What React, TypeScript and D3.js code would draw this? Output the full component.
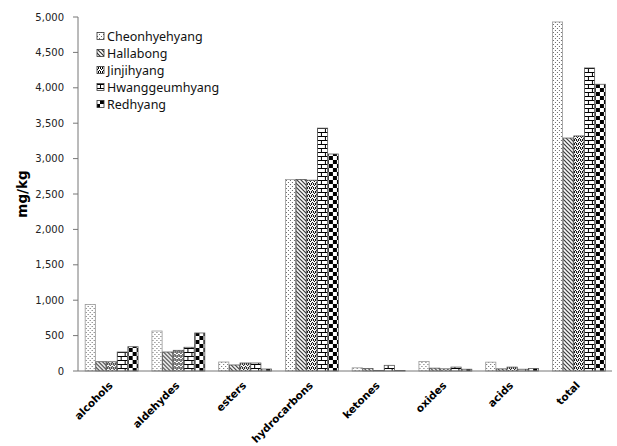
import * as d3 from "d3";

const categories = ["alcohols", "aldehydes", "esters", "hydrocarbons", "ketones", "oxides", "acids", "total"];
const cultivars = ["Cheonhyehyang", "Hallabong", "Jinjihyang", "Hwanggeumhyang", "Redhyang"];

const cheonhyehyang = [940, 565, 127, 2705, 45, 135, 125, 4930];
const hallabong = [131, 268, 85, 2705, 35, 40, 30, 3290];
const jinjihyang = [130, 292, 113, 2695, 8, 30, 55, 3320];
const hwanggeumhyang = [268, 335, 113, 3430, 80, 55, 25, 4280];
const redhyang = [343, 537, 28, 3065, 8, 25, 35, 4050];

const series = [cheonhyehyang, hallabong, jinjihyang, hwanggeumhyang, redhyang];
const yTicks = [0, 500, 1000, 1500, 2000, 2500, 3000, 3500, 4000, 4500, 5000];

const W = 617;
const H = 446;
const plot = { left: 78, right: 612, top: 17, bottom: 371 };

function Patterns() {
  return (
    <defs>
      {/* dotted */}
      <pattern id="p0" width="4" height="4" patternUnits="userSpaceOnUse">
        <rect width="4" height="4" fill="#fff" />
        <rect x="1" y="0" width="1" height="1" fill="#666" />
        <rect x="3" y="2" width="1" height="1" fill="#666" />
      </pattern>
      {/* downward diagonal */}
      <pattern id="p1" width="4" height="4" patternUnits="userSpaceOnUse">
        <rect width="4" height="4" fill="#fff" />
        <path d="M-1,-1 L5,5 M-1,3 L1,5 M3,-1 L5,1" stroke="#333" strokeWidth="1.2" />
      </pattern>
      {/* confetti */}
      <pattern id="p2" width="4" height="4" patternUnits="userSpaceOnUse">
        <rect width="4" height="4" fill="#fff" />
        <rect x="0" y="0" width="1" height="1" fill="#000" />
        <rect x="2" y="0" width="1" height="1" fill="#000" />
        <rect x="1" y="1" width="1" height="1" fill="#000" />
        <rect x="3" y="2" width="1" height="1" fill="#000" />
        <rect x="0" y="3" width="1" height="1" fill="#000" />
        <rect x="2" y="3" width="1" height="1" fill="#000" />
      </pattern>
      {/* horizontal brick */}
      <pattern id="p3" width="8" height="8" patternUnits="userSpaceOnUse">
        <rect width="8" height="8" fill="#fff" />
        <rect x="0" y="0" width="8" height="1" fill="#000" />
        <rect x="0" y="4" width="8" height="1" fill="#000" />
        <rect x="0" y="0" width="1" height="4" fill="#000" />
        <rect x="4" y="4" width="1" height="4" fill="#000" />
      </pattern>
      {/* large checker */}
      <pattern id="p4" width="8" height="8" patternUnits="userSpaceOnUse">
        <rect width="8" height="8" fill="#fff" />
        <rect x="0" y="0" width="4" height="4" fill="#000" />
        <rect x="4" y="4" width="4" height="4" fill="#000" />
      </pattern>
    </defs>
  );
}

export default function App() {
  const x = d3
    .scaleBand()
    .domain(categories)
    .range([plot.left, plot.right])
    .paddingInner(0.2)
    .paddingOuter(0.1);

  const xs = d3
    .scaleBand()
    .domain(cultivars)
    .range([0, x.bandwidth()]);

  const y = d3.scaleLinear().domain([0, 5000]).range([plot.bottom, plot.top]);
  const fmt = d3.format(",");

  return (
    <svg
      width={W}
      height={H}
      style={{ position: "absolute", left: 0, top: 0, background: "#fff" }}
      fontFamily="'DejaVu Sans', sans-serif"
    >
      <Patterns />

      {/* bars */}
      {categories.map((c, ci) => (
        <g key={c} transform={`translate(${x(c)},0)`}>
          {series.map((s, si) => (
            <rect
              key={si}
              x={(xs(cultivars[si]) || 0) + 0.5}
              y={y(s[ci])}
              width={xs.bandwidth() - 0.5}
              height={plot.bottom - y(s[ci])}
              fill={`url(#p${si})`}
              stroke={si === 0 ? "#999" : "#555"}
              strokeWidth={0.8}
            />
          ))}
        </g>
      ))}

      {/* y axis */}
      <line x1={plot.left} x2={plot.left} y1={plot.top} y2={plot.bottom} stroke="#777" />
      {yTicks.map((t) => (
        <g key={t}>
          <line x1={plot.left - 5} x2={plot.left} y1={y(t)} y2={y(t)} stroke="#777" />
          <text x={64} y={y(t) + 3.5} fontSize={10} textAnchor="end" fill="#222">
            {fmt(t)}
          </text>
        </g>
      ))}

      {/* x axis */}
      <line x1={plot.left} x2={plot.right} y1={plot.bottom} y2={plot.bottom} stroke="#777" />
      {categories.map((c) => {
        const cx = (x(c) || 0) + x.bandwidth() / 2;
        return (
          <text
            key={c}
            transform={`translate(${cx + 2},${plot.bottom + 15}) rotate(-45)`}
            textAnchor="end"
            fontSize={10.5}
            fontWeight="bold"
            fill="#000"
          >
            {c}
          </text>
        );
      })}

      {/* y title */}
      <text
        transform="translate(27,194) rotate(-90)"
        textAnchor="middle"
        fontSize={13.5}
        fontWeight="bold"
      >
        mg/kg
      </text>

      {/* legend */}
      {cultivars.map((name, i) => {
        const cy = 36 + i * 17;
        return (
          <g key={name}>
            <rect x={97} y={cy - 3.5} width={7} height={7} fill={`url(#p${i})`} stroke="#333" strokeWidth={0.8} />
            <text x={107} y={cy + 4.5} fontSize={12.5} fill="#111" fontFamily="'Noto Sans', sans-serif">
              {name}
            </text>
          </g>
        );
      })}
    </svg>
  );
}
